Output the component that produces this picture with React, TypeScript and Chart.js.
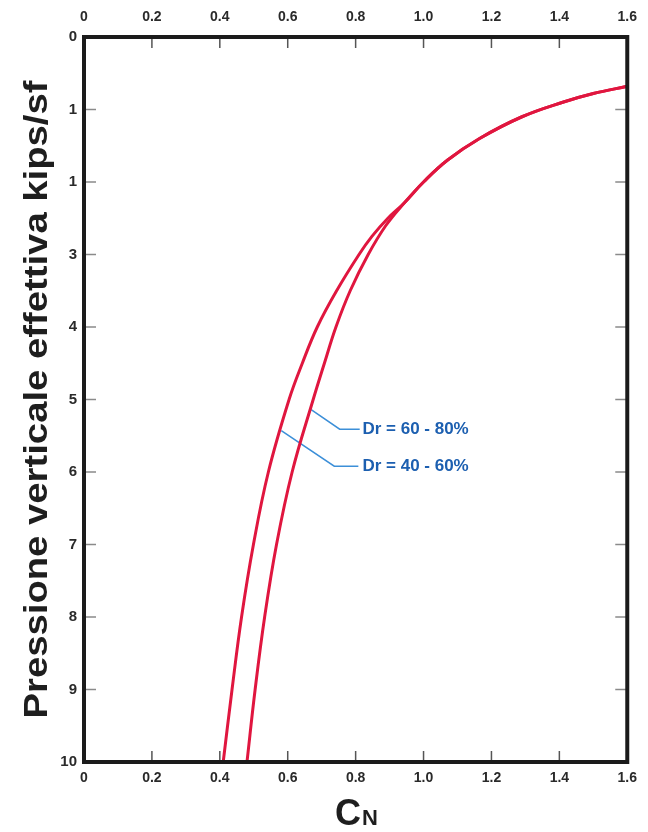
import React, { useEffect, useRef } from "react";
import { Chart, registerables } from "chart.js";

Chart.register(...registerables);

// ---- data ----
const xTickValues = [0, 0.2, 0.4, 0.6, 0.8, 1.0, 1.2, 1.4, 1.6];
const xTickLabels = ["0", "0.2", "0.4", "0.6", "0.8", "1.0", "1.2", "1.4", "1.6"];
const yTickValues = [0, 1, 2, 3, 4, 5, 6, 7, 8, 9, 10];
const yTickLabels = ["0", "1", "1", "3", "4", "5", "6", "7", "8", "9", "10"];

// Dr = 40 - 60% (left curve), ordered by increasing CN
const cnDr4060 = [0.41, 0.436, 0.464, 0.499, 0.543, 0.604, 0.643, 0.687, 0.744, 0.81, 0.848, 0.895, 0.943, 1.0, 1.07, 1.165, 1.29, 1.41, 1.5, 1.6];
const sigmaDr4060 = [10, 9, 8, 7, 6, 5, 4.5, 4, 3.5, 3, 2.75, 2.5, 2.29, 2.0, 1.7, 1.4, 1.1, 0.9, 0.78, 0.68];

// Dr = 60 - 80% (right curve), ordered by increasing CN
const cnDr6080 = [0.48, 0.504, 0.532, 0.567, 0.613, 0.675, 0.708, 0.742, 0.784, 0.837, 0.889, 0.943, 1.0, 1.07, 1.165, 1.29, 1.41, 1.5, 1.6];
const sigmaDr6080 = [10, 9, 8, 7, 6, 5, 4.5, 4, 3.5, 3, 2.6, 2.29, 2.0, 1.7, 1.4, 1.1, 0.9, 0.78, 0.68];

// leader lines (data coordinates)
const leader6080X = [0.669, 0.753, 0.812];
const leader6080Y = [5.14, 5.41, 5.41];
const leader4060X = [0.581, 0.737, 0.808];
const leader4060Y = [5.43, 5.92, 5.92];

const annotationTexts = ["Dr = 60 - 80%", "Dr = 40 - 60%"];
const annotationX = [0.82, 0.82];
const annotationY = [5.41, 5.92];

const yTitle = "Pressione verticale effettiva kips/sf";
const xTitleMain = "C";
const xTitleSub = "N";

const FONT = "'Liberation Sans', Arial, sans-serif";
const CURVE = "#e0163f";
const LEADER = "#3c8fd8";
const LABEL_BLUE = "#1c5fb0";

const toPts = (xs: number[], ys: number[]) => xs.map((x, i) => ({ x, y: ys[i] }));

const decorPlugin = {
  id: "decor",
  afterDatasetsDraw(chart: any) {
    const { ctx, chartArea, scales } = chart;
    const { left, right, top, bottom } = chartArea;
    ctx.save();
    // inner tick marks
    ctx.lineWidth = 1.5;
    ctx.strokeStyle = "#8a8a8a";
    yTickValues.forEach((v) => {
      if (v === 0 || v === 10) return;
      const py = scales.y.getPixelForValue(v);
      ctx.beginPath();
      ctx.moveTo(left, py);
      ctx.lineTo(left + 12, py);
      ctx.moveTo(right, py);
      ctx.lineTo(right - 12, py);
      ctx.stroke();
    });
    ctx.strokeStyle = "#555";
    xTickValues.forEach((v) => {
      if (v === 0 || v === 1.6) return;
      const px = scales.x.getPixelForValue(v);
      ctx.beginPath();
      ctx.moveTo(px, top);
      ctx.lineTo(px, top + 11);
      ctx.moveTo(px, bottom);
      ctx.lineTo(px, bottom - 11);
      ctx.stroke();
    });
    // frame
    ctx.lineWidth = 4;
    ctx.strokeStyle = "#1b1b1b";
    ctx.strokeRect(left, top, right - left, bottom - top);

    // annotations
    ctx.fillStyle = LABEL_BLUE;
    ctx.font = `bold 17px ${FONT}`;
    ctx.textAlign = "left";
    ctx.textBaseline = "middle";
    annotationTexts.forEach((t, i) => {
      ctx.fillText(t, scales.x.getPixelForValue(annotationX[i]), scales.y.getPixelForValue(annotationY[i]));
    });

    // y title
    ctx.save();
    ctx.translate(38, (top + bottom) / 2);
    ctx.rotate(-Math.PI / 2);
    ctx.font = `bold 34px ${FONT}`;
    const w = ctx.measureText(yTitle).width;
    const target = 638;
    ctx.scale(target / w, 1);
    ctx.fillStyle = "#1e1e1e";
    ctx.textAlign = "center";
    ctx.textBaseline = "middle";
    ctx.fillText(yTitle, 0, 0);
    ctx.restore();

    // x title
    ctx.fillStyle = "#1e1e1e";
    ctx.textBaseline = "alphabetic";
    ctx.textAlign = "left";
    ctx.font = `bold 36px ${FONT}`;
    const cw = ctx.measureText(xTitleMain).width;
    ctx.font = `bold 22px ${FONT}`;
    const nw = ctx.measureText(xTitleSub).width;
    const cx = 356 - (cw + nw) / 2;
    ctx.font = `bold 36px ${FONT}`;
    ctx.fillText(xTitleMain, cx, 825);
    ctx.font = `bold 22px ${FONT}`;
    ctx.fillText(xTitleSub, cx + cw + 1, 825);
    ctx.restore();
  },
};

export default function App() {
  const ref = useRef<HTMLCanvasElement>(null);
  useEffect(() => {
    if (!ref.current) return;
    const xAxisCommon = {
      type: "linear" as const,
      min: 0,
      max: 1.6,
      grid: { display: false, drawTicks: false, tickLength: 0 },
      border: { display: false },
      afterBuildTicks: (s: any) => {
        s.ticks = xTickValues.map((v) => ({ value: v }));
      },
    };
    const curveCommon = {
      showLine: true,
      borderColor: CURVE,
      borderWidth: 3,
      pointRadius: 0,
      tension: 0.4,
      xAxisID: "x",
      yAxisID: "y",
    };
    const leaderCommon = {
      showLine: true,
      borderColor: LEADER,
      borderWidth: 1.5,
      pointRadius: 0,
      tension: 0,
      xAxisID: "x",
      yAxisID: "y",
    };
    const chart = new Chart(ref.current, {
      type: "scatter",
      data: {
        datasets: [
          { label: "Dr = 40 - 60%", data: toPts(cnDr4060, sigmaDr4060), ...curveCommon },
          { label: "Dr = 60 - 80%", data: toPts(cnDr6080, sigmaDr6080), ...curveCommon },
          { label: "leader 60-80", data: toPts(leader6080X, leader6080Y), ...leaderCommon },
          { label: "leader 40-60", data: toPts(leader4060X, leader4060Y), ...leaderCommon },
        ],
      },
      options: {
        responsive: false,
        animation: false,
        layout: { padding: { left: 0, right: 16, top: 0, bottom: 0 } },
        plugins: { legend: { display: false }, title: { display: false }, tooltip: { enabled: false } },
        scales: {
          x: {
            ...xAxisCommon,
            position: "bottom",
            ticks: {
              padding: 8,
              color: "#2a2a2a",
              font: { family: FONT, size: 14, weight: "bold" },
              maxRotation: 0,
              autoSkip: false,
              callback: (_v: any, i: number) => xTickLabels[i],
            },
            afterFit: (s: any) => {
              s.height = 70;
            },
          },
          x2: {
            ...xAxisCommon,
            position: "top",
            ticks: {
              padding: 11,
              color: "#2a2a2a",
              font: { family: FONT, size: 14, weight: "bold" },
              maxRotation: 0,
              autoSkip: false,
              callback: (_v: any, i: number) => xTickLabels[i],
            },
            afterFit: (s: any) => {
              s.height = 37;
            },
          },
          y: {
            type: "linear",
            reverse: true,
            min: 0,
            max: 10,
            grid: { display: false, drawTicks: false, tickLength: 0 },
            border: { display: false },
            afterBuildTicks: (s: any) => {
              s.ticks = yTickValues.map((v) => ({ value: v }));
            },
            ticks: {
              padding: 7,
              color: "#2a2a2a",
              font: { family: FONT, size: 15, weight: "bold" },
              autoSkip: false,
              callback: (_v: any, i: number) => yTickLabels[i],
            },
            afterFit: (s: any) => {
              s.width = 84;
            },
          },
        },
      } as any,
      plugins: [decorPlugin],
    });
    return () => chart.destroy();
  }, []);
  return (
    <div style={{ position: "absolute", left: 0, top: 0, width: 648, height: 832, background: "#fff" }}>
      <canvas ref={ref} width={648} height={832} style={{ display: "block" }} />
    </div>
  );
}
